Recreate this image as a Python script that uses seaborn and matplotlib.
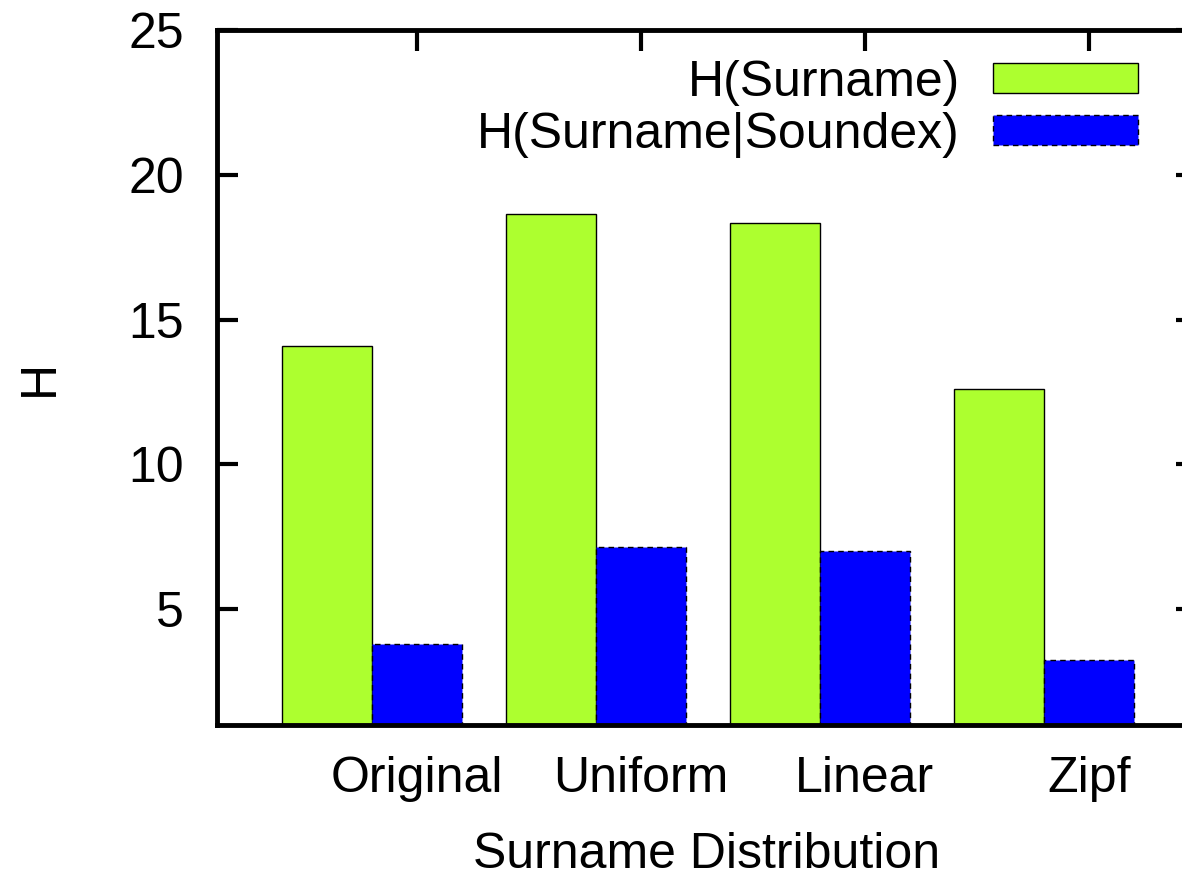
import matplotlib
matplotlib.use('Agg')
import matplotlib.pyplot as plt
import seaborn as sns
import pandas as pd

categories = ['Original', 'Uniform', 'Linear', 'Zipf']
h_surname = [14.1, 18.65, 18.35, 12.6]
h_surname_soundex = [3.8, 7.15, 7.0, 3.25]
series_names = ['H(Surname)', 'H(Surname|Soundex)']
yticks = [5, 10, 15, 20, 25]

df = pd.DataFrame({
    'Distribution': categories * 2,
    'Series': [series_names[0]] * len(categories) + [series_names[1]] * len(categories),
    'H': h_surname + h_surname_soundex,
})

sns.set_style('white')
plt.rcParams['font.family'] = ['Liberation Sans', 'DejaVu Sans']
plt.rcParams['text.color'] = 'black'
plt.rcParams['axes.labelcolor'] = 'black'

W, H = 1182, 877
fig = plt.figure(figsize=(W / 100, H / 100), dpi=100)
ax = fig.add_axes([217 / W, 1 - 725 / H, (1197 - 217) / W, (725 - 30) / H])

sns.barplot(data=df, x='Distribution', y='H', hue='Series', order=categories,
            hue_order=series_names, palette=['#ADFF2F', '#0000FF'], saturation=1,
            width=0.8, edgecolor='black', linewidth=1.0, ax=ax)

for bar in ax.containers[1]:
    bar.set_linestyle((0, (4, 3)))

ax.set_ylim(1, 25)
ax.set_xlim(-0.692, 3.683)
ax.set_yticks(yticks)
ax.set_xticks([i + 0.2 for i in range(len(categories))])
ax.set_xticklabels(categories)

fs = 36
ax.tick_params(axis='both', direction='in', length=15, width=3, labelsize=fs,
               colors='black', labelcolor='black')
ax.tick_params(axis='x', top=True, bottom=False, pad=22)
ax.tick_params(axis='y', left=True, right=True, pad=24)

for s in ax.spines.values():
    s.set_visible(True)
    s.set_linewidth(3.5)
    s.set_color('black')

ax.set_xlabel('Surname Distribution', fontsize=fs, labelpad=22, color='black')
ax.set_ylabel('H', fontsize=fs, labelpad=47, color='black')

if ax.get_legend() is not None:
    ax.get_legend().remove()
handles = [ax.containers[0][0], ax.containers[1][0]]
leg = ax.legend(handles, series_names, loc='upper right',
                bbox_to_anchor=(1138 / W, 1 - 60 / H), bbox_transform=fig.transFigure,
                frameon=False, markerfirst=False, fontsize=fs, handlelength=2.9,
                handleheight=0.54, handletextpad=0.66, labelspacing=0.12,
                borderpad=0, borderaxespad=0)
for t in leg.get_texts():
    t.set_color('black')

fig.savefig('out.png', dpi=100)
